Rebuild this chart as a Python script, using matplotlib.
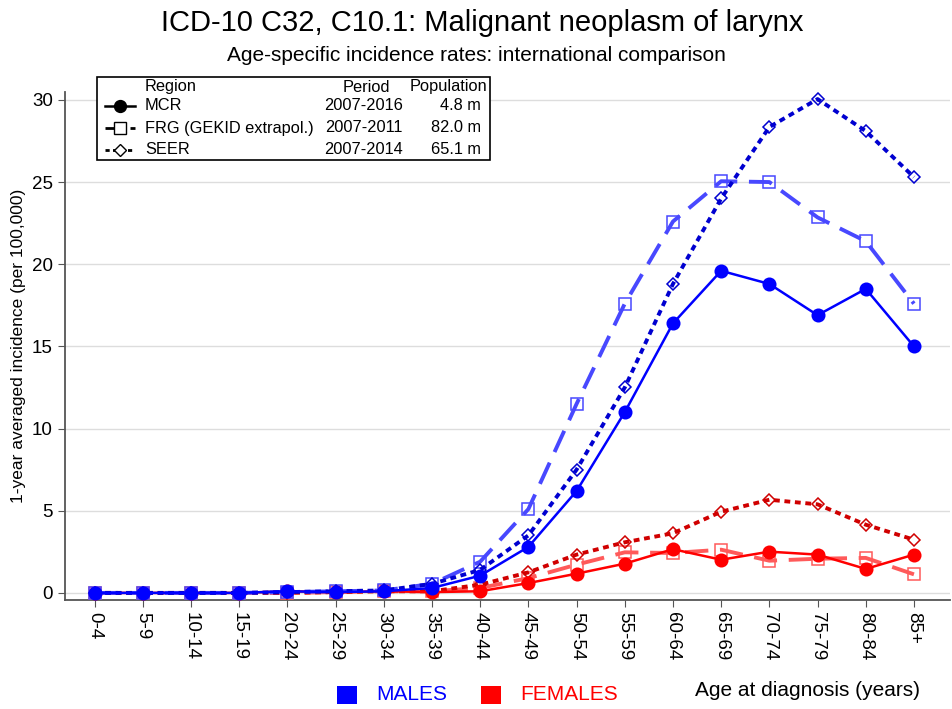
import numpy as np
import matplotlib
matplotlib.use("Agg")
import matplotlib.pyplot as plt
from matplotlib.lines import Line2D
from matplotlib.patches import Rectangle

plt.rcParams["font.family"] = ["Liberation Sans", "DejaVu Sans"]

# =========================
# Data
# =========================
AGE_GROUPS = ["0-4", "5-9", "10-14", "15-19", "20-24", "25-29", "30-34", "35-39",
              "40-44", "45-49", "50-54", "55-59", "60-64", "65-69", "70-74",
              "75-79", "80-84", "85+"]

MALES_MCR  = [0.0, 0.0, 0.0, 0.0, 0.1, 0.05, 0.1, 0.3, 1.05, 2.8, 6.2, 11.0,
              16.4, 19.6, 18.8, 16.9, 18.5, 15.0]
MALES_FRG  = [0.0, 0.0, 0.0, 0.0, 0.05, 0.1, 0.15, 0.55, 1.9, 5.1, 11.5, 17.6,
              22.6, 25.05, 25.0, 22.85, 21.4, 17.6]
MALES_SEER = [0.0, 0.0, 0.0, 0.0, 0.05, 0.1, 0.15, 0.55, 1.4, 3.5, 7.5, 12.5,
              18.8, 24.0, 28.35, 30.05, 28.1, 25.3]

FEMALES_MCR  = [0.0, 0.0, 0.0, 0.0, 0.1, 0.05, 0.1, 0.05, 0.1, 0.6, 1.17, 1.78,
                2.66, 2.02, 2.51, 2.33, 1.46, 2.33]
FEMALES_FRG  = [0.0, 0.0, 0.0, 0.0, 0.0, 0.05, 0.1, 0.1, 0.3, 0.9, 1.72, 2.47,
                2.43, 2.63, 1.96, 2.08, 2.13, 1.13]
FEMALES_SEER = [0.0, 0.0, 0.0, 0.0, 0.0, 0.05, 0.1, 0.1, 0.5, 1.25, 2.33, 3.08,
                3.63, 4.94, 5.67, 5.39, 4.15, 3.24]

REGIONS     = ["MCR", "FRG (GEKID extrapol.)", "SEER"]
PERIODS     = ["2007-2016", "2007-2011", "2007-2014"]
POPULATIONS = ["4.8 m", "82.0 m", "65.1 m"]

# =========================
# Styles
# =========================
STYLE = {
    "MCR":  dict(ls="-", lw=1.8, marker="o", ms=9, mfc=None),
    "FRG":  dict(ls=(0, (6, 3)), lw=2.8, marker="s", ms=9, mfc="white"),
    "SEER": dict(ls=(0, (1.5, 1.2)), lw=2.8, marker="D", ms=6.5, mfc="white"),
}


def draw_series(ax, x, y, kind, color):
    st = STYLE[kind]
    mfc = color if st["mfc"] is None else "none"
    ax.plot(x, y, linestyle=st["ls"], lw=st["lw"], color=color,
            marker=st["marker"], ms=st["ms"], mfc=mfc, mec=color,
            mew=1.1, zorder=3)


def main():
    fig = plt.figure(figsize=(9.52, 7.09), dpi=100)
    ax = fig.add_axes([0.068, 0.154, 0.930, 0.716])

    x = np.arange(len(AGE_GROUPS))

    draw_series(ax, x, FEMALES_FRG, "FRG", "#ff5a5a")
    draw_series(ax, x, FEMALES_SEER, "SEER", "#d00000")
    draw_series(ax, x, FEMALES_MCR, "MCR", "#ff0000")
    draw_series(ax, x, MALES_FRG, "FRG", "#4848ff")
    draw_series(ax, x, MALES_SEER, "SEER", "#0000d0")
    draw_series(ax, x, MALES_MCR, "MCR", "#0000ff")

    ax.set_xlim(-0.62, 17.75)
    ax.set_ylim(-0.42, 30.47)
    ax.set_yticks([0, 5, 10, 15, 20, 25, 30])
    ax.set_xticks(x)
    ax.set_xticklabels(AGE_GROUPS, rotation=270, fontsize=13.5)
    ax.tick_params(axis="y", labelsize=13.5, length=5, color="#555555")
    ax.tick_params(axis="x", length=5, color="#555555")
    ax.grid(axis="y", color="#dddddd", lw=1)
    ax.set_axisbelow(True)
    for s in ["top", "right"]:
        ax.spines[s].set_visible(False)
    for s in ["left", "bottom"]:
        ax.spines[s].set_color("#555555")
        ax.spines[s].set_linewidth(1.3)

    ax.set_ylabel("1-year averaged incidence (per 100,000)", fontsize=12.5, labelpad=4)

    fig.text(0.507, 0.967, "ICD-10 C32, C10.1: Malignant neoplasm of larynx",
             ha="center", va="center", fontsize=21)
    fig.text(0.500, 0.922, "Age-specific incidence rates: international comparison",
             ha="center", va="center", fontsize=15)

    # legend box (drawn in figure pixels)
    W, H = 952, 709
    def fx(px):
        return px / W
    def fy(py):
        return 1 - py / H

    fig.patches.append(Rectangle((fx(97), fy(160)), fx(490) - fx(97), fy(77) - fy(160),
                                 transform=fig.transFigure, fill=True, fc="white",
                                 ec="black", lw=1.2, zorder=5))
    row_y = [87, 106, 128, 150]
    fs = 11.8
    fig.text(fx(145), fy(row_y[0]), "Region", fontsize=fs, va="center", zorder=6)
    fig.text(fx(390), fy(row_y[0]), "Period", fontsize=fs, va="center", ha="right", zorder=6)
    fig.text(fx(487), fy(row_y[0]), "Population", fontsize=fs, va="center", ha="right", zorder=6)
    kinds = ["MCR", "FRG", "SEER"]
    for i, k in enumerate(kinds):
        yy = fy(row_y[i + 1])
        st = STYLE[k]
        mfc = "black" if st["mfc"] is None else "white"
        fig.lines.append(Line2D([fx(105), fx(135)], [yy, yy], transform=fig.transFigure,
                                color="black", ls=st["ls"], lw=min(st["lw"], 2.0),
                                zorder=6))
        fig.lines.append(Line2D([fx(120)], [yy], transform=fig.transFigure,
                                marker=st["marker"], ms=st["ms"] * 0.95, mfc=mfc,
                                mec="black", mew=1.0, ls="none", zorder=7))
        fig.text(fx(145), yy, REGIONS[i], fontsize=fs, va="center", zorder=6)
        fig.text(fx(403), yy, PERIODS[i], fontsize=fs, va="center", ha="right", zorder=6)
        fig.text(fx(481), yy, POPULATIONS[i], fontsize=fs, va="center", ha="right", zorder=6)

    # bottom legend
    fig.patches.append(Rectangle((fx(337), fy(704)), fx(20), 18 / H,
                                 transform=fig.transFigure, fc="#0000ff", ec="none"))
    fig.text(fx(376), fy(695), "MALES", color="#0000ff", fontsize=15, va="center")
    fig.patches.append(Rectangle((fx(481), fy(704)), fx(20), 18 / H,
                                 transform=fig.transFigure, fc="#ff0000", ec="none"))
    fig.text(fx(520), fy(695), "FEMALES", color="#ff0000", fontsize=15, va="center")
    fig.text(fx(920), fy(690), "Age at diagnosis (years)", fontsize=15,
             va="center", ha="right")

    fig.savefig("out.png", dpi=100)


if __name__ == "__main__":
    main()
